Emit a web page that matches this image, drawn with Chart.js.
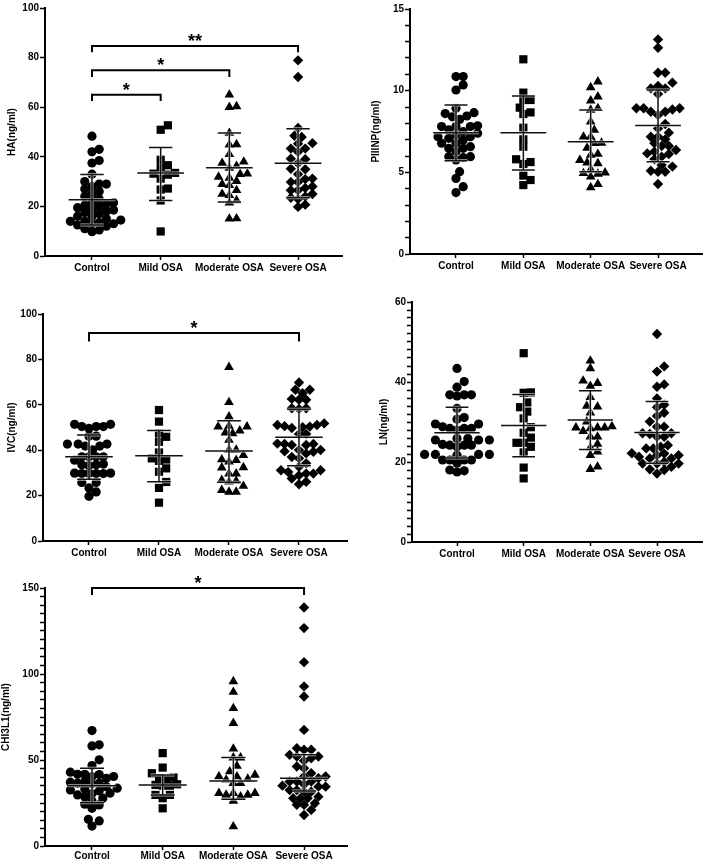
<!DOCTYPE html>
<html>
<head>
<meta charset="utf-8">
<script src="https://cdn.jsdelivr.net/npm/chart.js@4.4.0/dist/chart.umd.min.js"></script>
<style>
  html, body { margin: 0; padding: 0; background: #fff; }
  #wrap { position: relative; width: 708px; height: 866px; overflow: hidden; }
  canvas { position: absolute; }
</style>
</head>
<body>
<div id="wrap">
  <canvas id="haChart" width="354" height="290" style="left:0;top:0"></canvas>
  <canvas id="piiinpChart" width="354" height="290" style="left:354px;top:0"></canvas>
  <canvas id="ivcChart" width="354" height="290" style="left:0;top:290px"></canvas>
  <canvas id="lnChart" width="354" height="290" style="left:354px;top:290px"></canvas>
  <canvas id="chiChart" width="354" height="291" style="left:0;top:575px"></canvas>
</div>
<script>
// groups on the x axis
const groups = ['Control', 'Mild OSA', 'Moderate OSA', 'Severe OSA'];

// HA (ng/ml)
const haControl = [48.3, 43, 42, 38.5, 37.5, 33, 30, 29, 29, 28, 27, 26, 25, 24, 23, 22, 21.5, 21, 20.5, 20,
  19.5, 19, 18.5, 18, 17.5, 17, 16, 16, 15, 14.5, 14, 14, 13.5, 13, 13, 12.5, 12, 11, 10.5, 9.8];
const haMild = [52.7, 50.9, 38.8, 36.6, 35.5, 33.5, 33.2, 32.8, 31.2, 27.2, 26.8, 22.4, 9.9];
const haModerate = [65, 60, 60.3, 49.6, 44.9, 45, 41, 38, 37.5, 36.3, 35.5, 33.2, 33, 31.9, 31.5, 30.2,
  29, 28.5, 26.5, 25, 24.5, 22.4, 21.5, 15.1, 15];
const haSevere = [78.9, 72.2, 51.6, 48, 48.5, 45.3, 45.5, 43.3, 43.3, 42, 39.2, 39, 37.4, 35.2, 35, 33,
  31.2, 31, 29.8, 29.8, 28, 27.4, 26.5, 26.5, 25, 24, 23.5, 23, 20.7, 19.8];
const haMid = [22.7, 33.5, 35.6, 37.4];
const haLow = [12.5, 22.4, 21.8, 23.5];
const haHigh = [32.9, 43.8, 49.6, 51.3];
const haBrackets = [[1, 2, 65, 62.5, '*'], [1, 3, 74.9, 72.2, '*'], [1, 4, 84.7, 82.2, '**']];

// PIIINP (ng/ml)
const pControl = [10.86, 10.86, 10.35, 10.04, 8.92, 8.65, 8.6, 8.4, 8.24, 8.45, 7.8, 7.8, 7.85, 7.8, 7.49,
  7.6, 7.4, 7.3, 7.18, 7.18, 7.08, 6.98, 6.78, 6.78, 6.57, 6.47, 6.47, 6.27, 5.96, 5.96, 5.9, 5.76,
  5.04, 4.63, 4.12, 3.76];
const pMild = [11.92, 9.88, 9.43, 9.43, 8.96, 8.67, 8.57, 7.73, 7.02, 6.57, 5.8, 5.63, 5.51, 4.8, 4.53, 4.22];
const pModerate = [10.55, 10.2, 9.63, 9.39, 8.92, 8.82, 8.1, 7.59, 7.18, 7.18, 6.8, 6.78, 6.5, 6.12, 6.06,
  5.75, 5.59, 5.55, 5.18, 4.98, 4.94, 4.9, 4.73, 4.27, 4.08];
const pSevere = [13.14, 12.63, 11.1, 11.1, 10.49, 10.29, 10.14, 10.14, 9.8, 8.92, 8.92, 8.85, 8.92, 8.71,
  8.71, 8.51, 7.96, 7.69, 7.43, 7.18, 7.18, 7.02, 6.78, 6.61, 6.61, 6.37, 6.27, 6.16, 6.12, 5.96, 5.8,
  5.35, 5.45, 5.1, 5.04, 5.04, 4.29];
const pMid = [7.43, 7.43, 6.88, 7.86];
const pLow = [5.71, 5.14, 5.04, 5.65];
const pHigh = [9.12, 9.67, 8.82, 10.04];

// IVC (ng/ml)
const ivcControl = [51.4, 50.4, 50.4, 50.4, 51.4, 49.6, 46.2, 46.2, 42.7, 40.1, 41.8, 41.8, 42.7, 42.7,
  37.1, 35.6, 37.1, 37.1, 37.1, 33.9, 33.6, 33.6, 33.2, 29.7, 29.9, 29.7, 29.9, 29.7, 29.7, 25.8, 25.8,
  21.6, 23.4, 19.7];
const ivcMild = [57.7, 52.6, 47.4, 45.9, 43.7, 39, 36.4, 35.3, 35.9, 32, 30.5, 26, 23.4, 16.9];
const ivcModerate = [76.6, 61.1, 54.8, 50.4, 48.6, 50.4, 50.7, 47.4, 47.7, 44.5, 40.1, 40.1, 37.8, 35.6,
  34.9, 35.9, 32.3, 32.4, 29.7, 29.7, 26.4, 26.8, 26.1, 24.2, 21.6, 21.6, 22.4];
const ivcSevere = [69.8, 66.6, 66.6, 65.1, 62.2, 62.6, 62.2, 58.5, 58.2, 58.5, 51.8, 50.4, 51.1, 50.6,
  51.1, 49.8, 50.1, 47.1, 47.1, 42.7, 42.7, 42.3, 42.3, 42.9, 40.1, 40.1, 39.3, 38.6, 39.5, 36.4, 37,
  34.2, 32.7, 31.2, 31.2, 29.7, 29.7, 30.4, 27.5, 26.1, 25, 28.9];
const ivcMid = [37.1, 37.6, 39.6, 45.7];
const ivcLow = [27.2, 26.1, 25.9, 33.1];
const ivcHigh = [46.7, 48.7, 53.0, 58.0];
const ivcBrackets = [[1, 4, 91.6, 87.9, '*']];

// LN (ng/ml)
const lnControl = [43.4, 40.1, 38.7, 36.8, 36.8, 36.8, 36.5, 33.4, 30.7, 31.1, 29.5, 29.5, 28.4, 28.8,
  28.4, 28, 28.4, 25.9, 25.5, 25.5, 25.9, 25.5, 24.2, 24.2, 23.8, 24.2, 24.4, 21.9, 21.9, 21.9, 21.7,
  21.9, 20.5, 20.5, 20.5, 20.5, 19.7, 18.0, 17.5, 17.8];
const lnMild = [47.2, 37.3, 37.4, 34.9, 33.7, 32.6, 30.9, 28.7, 27.3, 26.1, 24.8, 24.8, 23.8, 22.4, 18.6, 15.9];
const lnModerate = [45.3, 43.4, 40.3, 39.7, 39.0, 36.2, 34.0, 33.8, 32.3, 30.1, 28.6, 28.6, 28.6, 28.4,
  28.9, 27.7, 26.3, 26.3, 24.5, 23.6, 22.6, 21.7, 18.2, 18.8];
const lnSevere = [52, 43.9, 42.6, 39.4, 38.8, 35.9, 34.3, 33.7, 32.3, 30.1, 31.5, 28.8, 28.8, 27.2, 27.2,
  27.0, 26.3, 26.3, 24.2, 23.4, 23.4, 23.8, 22.2, 22.1, 21.7, 21.7, 20.9, 20.9, 21.3, 19.6, 19.6, 19.6,
  20.0, 18.8, 18, 18.2, 17.1];
const lnMid = [27.3, 29.1, 30.5, 27.4];
const lnLow = [21.0, 21.3, 23.1, 19.7];
const lnHigh = [33.7, 36.9, 37.8, 35.1];

// CHI3L1 (ng/ml)
const chiControl = [67.1, 58.8, 58.2, 50.1, 46.8, 41.7, 41.7, 42.9, 41.5, 40.4, 39.4, 40.4, 36.5, 37.1,
  36.5, 36.2, 37.5, 34.5, 33.6, 32.6, 33.2, 32.0, 30.7, 30.5, 29.7, 28.7, 27.8, 26.2, 24.3, 21.9, 23.9,
  15.5, 14.6, 11.6];
const chiMild = [54, 45.6, 42.3, 39.8, 39.4, 39, 35.9, 35.5, 35.1, 35.1, 29.7, 29.7, 27.8, 21.9];
const chiModerate = [95.7, 89.5, 80.1, 71.4, 56.5, 51.4, 51.4, 46.6, 43.3, 41.3, 39, 38.5, 40.4, 40.4,
  36.5, 36.5, 30.7, 30.7, 30.7, 29.7, 29.7, 28.7, 26.2, 11.3];
const chiSevere = [138.7, 126.7, 106.9, 92.8, 86.9, 67.5, 56.9, 56, 56, 53, 52, 52, 51, 49.5, 46.2, 45.2,
  42.3, 40.4, 40.4, 39.4, 37.5, 37.5, 37.5, 35.1, 34.5, 35.9, 34.5, 31.6, 32.5, 32.5, 31.6, 27.8, 27.8,
  28.7, 27.8, 24.8, 24, 23.9, 21, 18];
const chiMid = [35.1, 35.5, 37.8, 39.4];
const chiLow = [25.2, 29.7, 27.2, 32];
const chiHigh = [45.2, 41.3, 51.4, 53];
const chiBrackets = [[1, 4, 150, 146, '*']];

const FONT = "'Liberation Sans', Arial, sans-serif";
Chart.defaults.font.family = FONT;
Chart.defaults.color = '#000';

const markerStyles = ['circle', 'rect', 'triangle', 'rectRot'];
const markerRadius = [4.6, 5.8, 5.6, 5.2];

function range(from, to, step) {
  const out = [];
  for (let v = from; v <= to + 1e-9; v += step) out.push(Math.round(v * 1000) / 1000);
  return out;
}

// error bars: centre line plus whiskers, drawn over the dots
function statsPlugin(mid, low, high) {
  return {
    id: 'dotStats',
    afterDatasetsDraw(chart) {
      const { ctx, scales: { x, y } } = chart;
      const unit = x.getPixelForValue(2) - x.getPixelForValue(1);
      const wide = unit * 0.34, cap = unit * 0.17;
      ctx.save();
      ctx.lineCap = 'butt';
      mid.forEach((m, i) => {
        const cx = x.getPixelForValue(i + 1);
        const ym = y.getPixelForValue(m), yl = y.getPixelForValue(low[i]), yh = y.getPixelForValue(high[i]);
        const path = () => {
          ctx.beginPath();
          ctx.moveTo(cx - wide, ym); ctx.lineTo(cx + wide, ym);
          ctx.moveTo(cx - cap, yh); ctx.lineTo(cx + cap, yh);
          ctx.moveTo(cx - cap, yl); ctx.lineTo(cx + cap, yl);
          ctx.moveTo(cx, yh); ctx.lineTo(cx, yl);
        };
        path(); ctx.strokeStyle = 'rgba(255,255,255,0.7)'; ctx.lineWidth = 3; ctx.stroke();
        path(); ctx.strokeStyle = '#111'; ctx.lineWidth = 1.5; ctx.stroke();
      });
      ctx.restore();
    }
  };
}

// significance brackets above the groups
function bracketPlugin(list) {
  return {
    id: 'sigBrackets',
    afterDraw(chart) {
      const { ctx, scales: { x, y } } = chart;
      ctx.save();
      ctx.strokeStyle = '#000';
      ctx.fillStyle = '#000';
      ctx.lineWidth = 2;
      ctx.font = 'bold 18px ' + FONT;
      ctx.textAlign = 'center';
      ctx.textBaseline = 'alphabetic';
      list.forEach(([from, to, top, leg, label]) => {
        const x1 = x.getPixelForValue(from), x2 = x.getPixelForValue(to);
        const yt = y.getPixelForValue(top), yl = y.getPixelForValue(leg);
        ctx.beginPath();
        ctx.moveTo(x1, yl); ctx.lineTo(x1, yt); ctx.lineTo(x2, yt); ctx.lineTo(x2, yl);
        ctx.stroke();
        ctx.fillText(label, (x1 + x2) / 2, yt + 1);
      });
      ctx.restore();
    }
  };
}

// spread points sideways so they don't sit on top of each other
function spreadPoints(chart, gap) {
  const xs = chart.scales.x, ys = chart.scales.y;
  const unit = xs.getPixelForValue(2) - xs.getPixelForValue(1);
  chart.data.datasets.forEach((ds, i) => {
    const placed = [];
    const order = ds.data.map((p, k) => k).sort((a, b) => ds.data[a].y - ds.data[b].y);
    order.forEach(k => {
      const py = ys.getPixelForValue(ds.data[k].y);
      let off = 0;
      for (let n = 0; n < 80; n++) {
        const cand = (n % 2 ? 1 : -1) * Math.ceil(n / 2) * gap / 2;
        const hit = placed.some(q => Math.hypot(q.x - cand, q.y - py) < gap);
        if (!hit) { off = cand; break; }
      }
      placed.push({ x: off, y: py });
      ds.data[k].x = i + 1 + off / unit;
    });
  });
  chart.update('none');
}

function makePanel(id, p) {
  const ctx = document.getElementById(id).getContext('2d');
  const datasets = p.series.map((vals, i) => ({
    data: vals.map(v => ({ x: i + 1, y: v })),
    pointStyle: markerStyles[i],
    pointRadius: markerRadius[i],
    backgroundColor: '#000',
    borderColor: '#000',
    borderWidth: 0,
    showLine: false
  }));
  const bold = { weight: 'bold', size: 10, family: FONT };
  const chart = new Chart(ctx, {
    type: 'scatter',
    data: { datasets },
    options: {
      responsive: false,
      animation: false,
      events: [],
      layout: { padding: { top: p.padTop, right: p.padRight, left: 0, bottom: 0 } },
      plugins: { legend: { display: false }, tooltip: { enabled: false } },
      scales: {
        x: {
          type: 'linear',
          min: p.xMin,
          max: p.xMax,
          afterBuildTicks: s => { s.ticks = groups.map((g, i) => ({ value: i + 1 })); },
          afterFit: s => { s.height = p.axisBottom; },
          ticks: {
            autoSkip: false, maxRotation: 0, padding: p.xPad, font: bold, color: '#000',
            callback: (v, i) => groups[i]
          },
          grid: { drawOnChartArea: false, drawTicks: true, tickLength: 4, tickColor: '#000', tickWidth: 1.5 },
          border: { display: true, color: '#000', width: 2 }
        },
        y: {
          min: 0,
          max: p.yMax,
          afterBuildTicks: s => { s.ticks = range(0, p.yMax, p.minor).map(v => ({ value: v })); },
          afterFit: s => { s.width = p.axisLeft; },
          ticks: {
            autoSkip: false, padding: 1, font: bold, color: '#000',
            callback: v => (Math.abs(v % p.major) < 1e-6 ? String(v) : '')
          },
          grid: { drawOnChartArea: false, drawTicks: true, tickLength: 5, tickColor: '#000', tickWidth: 1.5 },
          border: { display: true, color: '#000', width: 2 },
          title: {
            display: true, text: p.title, font: bold, color: '#000',
            padding: { top: p.titlePad, bottom: 0 }
          }
        }
      }
    },
    plugins: [statsPlugin(p.mid, p.low, p.high), bracketPlugin(p.brackets || [])]
  });
  spreadPoints(chart, 7.2);
  return chart;
}

document.addEventListener('DOMContentLoaded', function() {
  makePanel('haChart', {
    series: [haControl, haMild, haModerate, haSevere],
    mid: haMid, low: haLow, high: haHigh, brackets: haBrackets,
    title: 'HA(ng/ml)', yMax: 100, major: 20, minor: 20,
    padTop: 8, padRight: 12, axisLeft: 45, axisBottom: 34, xPad: 2, titlePad: 6,
    xMin: 0.316, xMax: 4.64
  });
  makePanel('piiinpChart', {
    series: [pControl, pMild, pModerate, pSevere],
    mid: pMid, low: pLow, high: pHigh,
    title: 'PIIINP(ng/ml)', yMax: 15, major: 5, minor: 1,
    padTop: 9, padRight: 6, axisLeft: 56, axisBottom: 36, xPad: 2, titlePad: 16,
    xMin: 0.317, xMax: 4.653
  });
  makePanel('ivcChart', {
    series: [ivcControl, ivcMild, ivcModerate, ivcSevere],
    mid: ivcMid, low: ivcLow, high: ivcHigh, brackets: ivcBrackets,
    title: 'IVC(ng/ml)', yMax: 100, major: 20, minor: 20,
    padTop: 24, padRight: 7, axisLeft: 43, axisBottom: 39, xPad: 2, titlePad: 6,
    xMin: 0.343, xMax: 4.686
  });
  makePanel('lnChart', {
    series: [lnControl, lnMild, lnModerate, lnSevere],
    mid: lnMid, low: lnLow, high: lnHigh,
    title: 'LN(ng/ml)', yMax: 60, major: 20, minor: 2,
    padTop: 12, padRight: 6, axisLeft: 58, axisBottom: 38, xPad: 2, titlePad: 24,
    xMin: 0.325, xMax: 4.675
  });
  makePanel('chiChart', {
    series: [chiControl, chiMild, chiModerate, chiSevere],
    mid: chiMid, low: chiLow, high: chiHigh, brackets: chiBrackets,
    title: 'CHI3L1(ng/ml)', yMax: 150, major: 50, minor: 5,
    padTop: 13, padRight: 7, axisLeft: 45, axisBottom: 20, xPad: 0, titlePad: 0,
    xMin: 0.335, xMax: 4.608
  });
});
</script>
</body>
</html>
